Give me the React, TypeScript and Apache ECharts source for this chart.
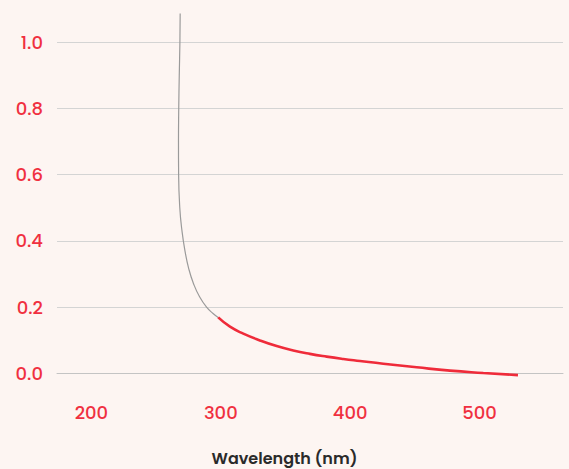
import React, { useEffect, useRef } from "react";
import * as echarts from "echarts";

const xTickValues = [200, 300, 400, 500];
const yTickValues = [0, 0.2, 0.4, 0.6, 0.8, 1.0];
const xTitle = "Wavelength (nm)";

// gray (extrapolated) part of the curve: [wavelength, value]
const grayWavelengths = [268.6, 268.4, 267.9, 267.5, 267.3, 267.4, 268.3, 270.0, 272.3, 275.3, 279.0, 283.5, 289.0, 294.0, 298.0];
const grayValues = [1.086, 1.0, 0.9, 0.8, 0.7, 0.6, 0.5, 0.43, 0.37, 0.315, 0.27, 0.232, 0.2, 0.181, 0.169];

// red (measured) part of the curve
const redWavelengths = [298.0, 307.1, 317.4, 330.3, 343.2, 356.0, 368.9, 381.8, 394.7, 407.6, 425.6, 451.4, 477.1, 502.9, 529.7];
const redValues = [0.169, 0.141, 0.12, 0.0995, 0.0825, 0.0693, 0.059, 0.0507, 0.0436, 0.0375, 0.0292, 0.0185, 0.0085, 0.0015, -0.005];

const FONT = "Poppins, Inter, 'Noto Sans', sans-serif";
const RED_TEXT = "#f03040";

export default function App() {
  const ref = useRef<HTMLDivElement>(null);

  useEffect(() => {
    if (!ref.current) return;
    const chart = echarts.init(ref.current, null, { renderer: "svg" });
    const gray = grayWavelengths.map((w, i) => [w, grayValues[i]]);
    const red = redWavelengths.map((w, i) => [w, redValues[i]]);
    chart.setOption({
      animation: false,
      backgroundColor: "#fdf5f2",
      grid: { left: 57, right: 6, top: 13.5, bottom: 79, containLabel: false },
      xAxis: {
        type: "value",
        min: 173.4,
        max: 564.5,
        axisLine: { show: true, onZero: true, lineStyle: { color: "#c4c4c4", width: 1 } },
        axisTick: { show: false, customValues: xTickValues },
        splitLine: { show: false },
        axisLabel: {
          customValues: xTickValues,
          color: RED_TEXT,
          fontSize: 18,
          fontWeight: 500,
          fontFamily: FONT,
          margin: 13,
        },
      },
      yAxis: {
        type: "value",
        min: -0.05,
        max: 1.086,
        axisLine: { show: false },
        axisTick: { show: false, customValues: yTickValues },
        splitLine: { show: true, lineStyle: { color: "#d4d4d4", width: 1 } },
        axisLabel: {
          customValues: yTickValues,
          color: RED_TEXT,
          fontSize: 18,
          fontWeight: 500,
          fontFamily: FONT,
          margin: 14,
          formatter: (v: number) => v.toFixed(1),
        },
      },
      graphic: [
        {
          type: "text",
          left: "center",
          top: 450,
          style: {
            text: xTitle,
            fill: "#2a2a2a",
            fontSize: 16,
            fontWeight: 600,
            fontFamily: FONT,
          },
        },
      ],
      series: [
        {
          type: "line",
          data: gray,
          smooth: 0.5,
          showSymbol: false,
          lineStyle: { color: "#9a9a9a", width: 1.2 },
          z: 2,
        },
        {
          type: "line",
          data: red,
          smooth: 0.5,
          showSymbol: false,
          lineStyle: { color: "#ef2b3a", width: 2.6 },
          z: 3,
        },
      ],
    });
    return () => chart.dispose();
  }, []);

  return (
    <div
      ref={ref}
      style={{ position: "fixed", left: 0, top: 0, width: 569, height: 469 }}
    />
  );
}
